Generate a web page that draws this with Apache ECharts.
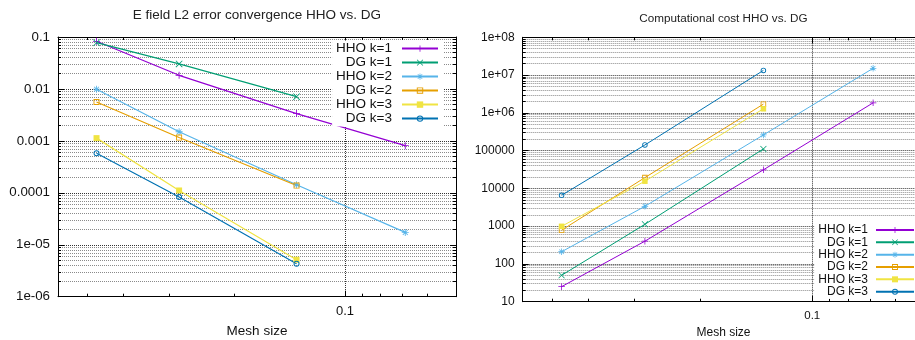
<!DOCTYPE html>
<html><head><meta charset="utf-8">
<script src="https://cdn.jsdelivr.net/npm/echarts@6/dist/echarts.min.js"></script>
<style>html,body{margin:0;padding:0;background:#fff}#c{width:915px;height:340px}</style>
</head><body><div id="c"></div>
<script>
// ---------- data ----------
const seriesNames = ['HHO k=1', 'DG k=1', 'HHO k=2', 'DG k=2', 'HHO k=3', 'DG k=3'];
const seriesColors = ['#9400d3', '#009e73', '#56b4e9', '#e69f00', '#f0e442', '#0072b2'];
const meshSize = [0.0212, 0.0355, 0.0739, 0.1457];

const errHHO1 = [0.0826, 0.0183, 0.00335, 0.00081];
const errDG1  = [0.0777, 0.0303, 0.0071];
const errHHO2 = [0.0099, 0.0015, 0.000143, 0.0000173];
const errDG2  = [0.0056, 0.00116, 0.000138];
const errHHO3 = [0.00113, 0.000111, 0.00000515];
const errDG3  = [0.00058, 0.000083, 0.0000043];

const costHHO1 = [25, 400, 31000, 1840000];
const costDG1  = [50, 1120, 111000];
const costHHO2 = [210, 3350, 260000, 15100000];
const costDG2  = [780, 19300, 1700000];
const costHHO3 = [990, 15500, 1280000];
const costDG3  = [6560, 141000, 13300000];

const xMin = 0.016667, xMax = 0.2;
const xMajorTicks = [0.1];
const xMajorLabels = ['0.1'];
const xMinorTicks = [0.02, 0.025, 0.03333, 0.05, 0.1111, 0.125, 0.1429, 0.1667];
const errTickLabels = ['1e-06', '1e-05', '0.0001', '0.001', '0.01', '0.1'];
const costTickLabels = ['10', '100', '1000', '10000', '100000', '1e+06', '1e+07', '1e+08'];
const titles = ['E field L2 error convergence HHO vs. DG', 'Computational cost HHO vs. DG'];
const xName = 'Mesh size';

// ---------- styling ----------
const FF = '"Liberation Sans", Arial, Helvetica, sans-serif';
const SYM = [
  'path://M-5,-0.6H5V0.6H-5Z M-0.6,-5H0.6V5H-0.6Z',
  'path://M-5,-4.2L-4.2,-5L5,4.2L4.2,5Z M4.2,-5L5,-4.2L-4.2,5L-5,4.2Z',
  'path://M-5,-0.6H5V0.6H-5Z M-0.6,-5H0.6V5H-0.6Z M-3.9,-3.1L-3.1,-3.9L3.9,3.1L3.1,3.9Z M3.1,-3.9L3.9,-3.1L-3.1,3.9L-3.9,3.1Z',
  'path://M-5,-5H5V5H-5Z M-3.5,-3.5V3.5H3.5V-3.5Z',
  'rect',
  'path://M0,-5A5,5 0 1,1 0,5A5,5 0 1,1 0,-5Z M0,-3.4A3.4,3.4 0 1,0 0,3.4A3.4,3.4 0 1,0 0,-3.4Z'
];

function pairs(vals) { return vals.map((v, i) => [meshSize[i], v]); }

function xAxes(gi, fs, nameGap) {
  const base = { type: 'log', logBase: 10, gridIndex: gi, min: xMin, max: xMax,
    minorTick: { show: false }, minorSplitLine: { show: false } };
  const line = { show: true, onZero: false, lineStyle: { color: '#000', width: 1 } };
  const major = { show: true, inside: true, length: 6, customValues: xMajorTicks, lineStyle: { color: '#000' } };
  const minor = { show: true, inside: true, length: 3, customValues: xMinorTicks, lineStyle: { color: '#000' } };
  return [
    Object.assign({}, base, {
      position: 'bottom', name: xName, nameLocation: 'middle', nameGap: nameGap,
      nameTextStyle: { fontSize: fs, color: '#111', fontFamily: FF },
      axisLine: line, axisTick: major,
      axisLabel: { show: true, customValues: xMajorTicks, margin: 8, fontSize: fs - 0.5, color: '#111', fontFamily: FF,
        formatter: v => xMajorLabels[xMajorTicks.findIndex(t => Math.abs(t - v) < 1e-9)] || '' },
      splitLine: { show: true, lineStyle: { color: '#333', type: [1, 1], width: 1 } }
    }),
    Object.assign({}, base, { position: 'bottom', axisLine: { show: false }, axisTick: minor,
      axisLabel: { show: false }, splitLine: { show: false } }),
    Object.assign({}, base, { position: 'top', axisLine: line, axisTick: major,
      axisLabel: { show: false }, splitLine: { show: false } }),
    Object.assign({}, base, { position: 'top', axisLine: { show: false }, axisTick: minor,
      axisLabel: { show: false }, splitLine: { show: false } })
  ];
}

function yAxes(gi, min, max, labels, fs) {
  const base = { type: 'log', logBase: 10, gridIndex: gi, min: min, max: max, interval: 1,
    axisLine: { show: true, onZero: false, lineStyle: { color: '#000', width: 1 } },
    axisTick: { show: true, inside: true, length: 6, lineStyle: { color: '#000' } },
    minorTick: { show: true, splitNumber: 9, length: 3, lineStyle: { color: '#000' } } };
  const e0 = Math.round(Math.log10(min));
  return [
    Object.assign({}, base, { position: 'left',
      axisLabel: { show: true, margin: 8, fontSize: fs, color: '#111', fontFamily: FF,
        showMinLabel: true, showMaxLabel: true, hideOverlap: false,
        formatter: v => labels[Math.round(Math.log10(v)) - e0] || '' },
      splitLine: { show: true, lineStyle: { color: '#333', type: [1, 1], width: 1 } },
      minorSplitLine: { show: true, lineStyle: { color: '#8a8a8a', type: [1, 1], width: 1 } } }),
    Object.assign({}, base, { position: 'right', axisLabel: { show: false },
      splitLine: { show: false }, minorSplitLine: { show: false } })
  ];
}

function mkSeries(gi, k, vals, lw, ss) {
  return {
    type: 'line', name: seriesNames[k], xAxisIndex: gi * 4, yAxisIndex: gi * 2,
    data: pairs(vals), symbol: SYM[k], symbolSize: (k === 3 || k === 5 || k === 4) ? ss - 1 : ss,
    showSymbol: true, animation: false,
    color: seriesColors[k],
    lineStyle: { width: lw, color: seriesColors[k] },
    itemStyle: { color: seriesColors[k], borderWidth: 0 },
    emphasis: { disabled: true }
  };
}

const errSets = [errHHO1, errDG1, errHHO2, errDG2, errHHO3, errDG3];
const costSets = [costHHO1, costDG1, costHHO2, costDG2, costHHO3, costDG3];

const chart = echarts.init(document.getElementById('c'), null, { renderer: 'canvas' });
chart.setOption({
  backgroundColor: '#fff',
  animation: false,
  title: [
    { text: titles[0], left: 256.8, top: 15.7, textAlign: 'center', textVerticalAlign: 'middle', padding: 0,
      textStyle: { fontSize: 13.5, fontWeight: 'normal', color: '#222', fontFamily: FF } },
    { text: titles[1], left: 723.4, top: 19, textAlign: 'center', textVerticalAlign: 'middle', padding: 0,
      textStyle: { fontSize: 11.7, fontWeight: 'normal', color: '#222', fontFamily: FF } }
  ],
  grid: [
    { left: 58, top: 37, right: 459, bottom: 43.3, outerBoundsMode: 'none', containLabel: false },
    { left: 522.7, top: 37.3, right: -9.3, bottom: 38.3, outerBoundsMode: 'none', containLabel: false }
  ],
  legend: [
    { data: seriesNames, orient: 'vertical', align: 'right', right: 472, top: 40.6,
      padding: [1, 4, 1, 4], itemGap: 0, itemWidth: 36, itemHeight: 8, selectedMode: false,
      backgroundColor: '#fff',
      textStyle: { fontSize: 13.5, fontFamily: FF, color: '#111', lineHeight: 13.48, padding: [0, 5, 0, 0] } },
    { data: seriesNames, orient: 'vertical', align: 'right', right: -4, top: 222.8,
      padding: [1, 4, 1, 4], itemGap: 0, itemWidth: 38, itemHeight: 7.5, selectedMode: false,
      backgroundColor: '#fff',
      textStyle: { fontSize: 12, fontFamily: FF, color: '#111', lineHeight: 12.34, padding: [0, 3, 0, 0] } }
  ],
  xAxis: xAxes(0, 13.5, 28).concat(xAxes(1, 12, 25)),
  yAxis: yAxes(0, 1e-6, 0.1, errTickLabels, 13.3).concat(yAxes(1, 10, 1e8, costTickLabels, 12)),
  series: errSets.map((v, k) => mkSeries(0, k, v, 1.2, 7))
    .concat(costSets.map((v, k) => mkSeries(1, k, v, 1, 6.5)))
});
</script>
</body></html>
